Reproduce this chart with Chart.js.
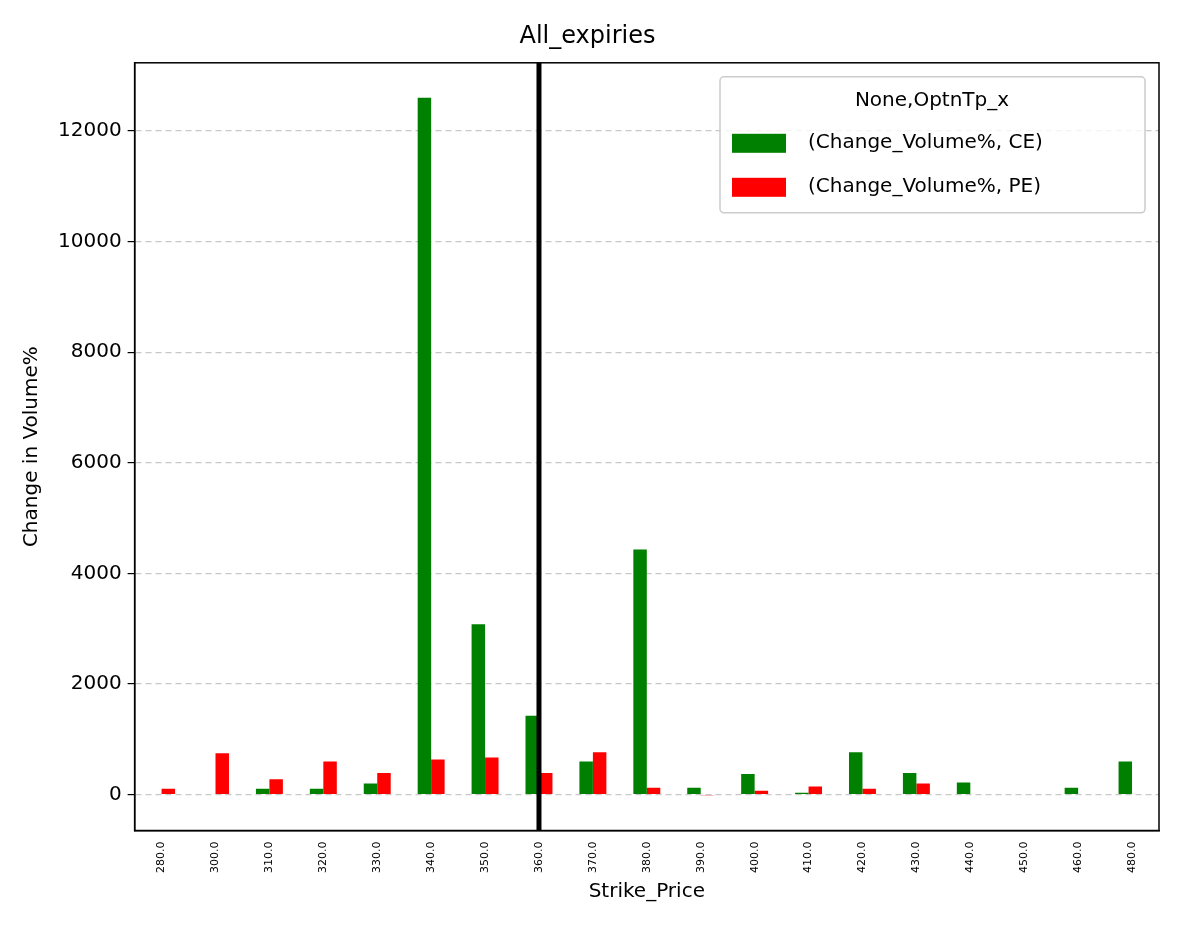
<!DOCTYPE html>
<html>
<head>
<meta charset="utf-8">
<script src="https://cdn.jsdelivr.net/npm/chart.js@4"></script>
<style>
body{margin:0;background:#fff}
#wrap{width:1179px;height:928px}
</style>
</head>
<body>
<div id="wrap"><canvas id="c" width="1179" height="928"></canvas></div>
<script>
const strikes = ['280.0','300.0','310.0','320.0','330.0','340.0','350.0','360.0','370.0','380.0','390.0','400.0','410.0','420.0','430.0','440.0','450.0','460.0','480.0'];
const ceVals = [0,0,107,107,200,12600,3080,1423,596,4430,125,370,31,765,389,219,0,125,596];
const peVals = [107,746,276,596,389,633,671,389,765,125,-19,69,144,107,200,0,0,0,0];
const yTicks = [0,2000,4000,6000,8000,10000,12000];
const spotStrike = '360.0';

const FONT = 'DejaVu Sans';

// vertical line at spot strike, frame, legend box
const extras = {
  id: 'extras',
  afterDatasetsDraw(chart) {
    const {ctx, chartArea: {top, bottom, left, right}, scales: {x}} = chart;
    ctx.save();
    const xp = x.getPixelForValue(strikes.indexOf(spotStrike));
    ctx.strokeStyle = '#000';
    ctx.lineWidth = 5;
    ctx.beginPath();
    ctx.moveTo(xp, top);
    ctx.lineTo(xp, bottom);
    ctx.stroke();

    ctx.lineWidth = 1.5;
    ctx.strokeRect(left, top, right - left, bottom - top);

    // legend
    const lx = right - 439, ly = top + 14, lw = 425, lh = 136;
    ctx.fillStyle = 'rgba(255,255,255,0.8)';
    ctx.strokeStyle = '#ccc';
    ctx.lineWidth = 1.5;
    ctx.beginPath();
    ctx.roundRect(lx, ly, lw, lh, 4);
    ctx.fill();
    ctx.stroke();
    ctx.fillStyle = '#000';
    ctx.font = '20px ' + FONT;
    ctx.textBaseline = 'middle';
    ctx.textAlign = 'center';
    ctx.fillText('None,OptnTp_x', lx + 212, ly + 24);
    ctx.textAlign = 'left';
    const items = [['(Change_Volume%, CE)', 'green'], ['(Change_Volume%, PE)', 'red']];
    items.forEach((it, i) => {
      const yy = ly + 66 + i * 44;
      ctx.fillStyle = it[1];
      ctx.fillRect(lx + 12, yy - 9, 54, 19);
      ctx.fillStyle = '#000';
      ctx.fillText(it[0], lx + 88, yy);
    });
    ctx.restore();
  }
};

new Chart(document.getElementById('c'), {
  type: 'bar',
  data: {
    labels: strikes,
    datasets: [
      {label: '(Change_Volume%, CE)', data: ceVals, backgroundColor: 'green', categoryPercentage: 0.5, barPercentage: 1.0},
      {label: '(Change_Volume%, PE)', data: peVals, backgroundColor: 'red', categoryPercentage: 0.5, barPercentage: 1.0}
    ]
  },
  options: {
    responsive: false,
    animation: false,
    layout: {padding: {top: 16, right: 20, left: 16, bottom: 20}},
    plugins: {
      legend: {display: false},
      tooltip: {enabled: false},
      title: {display: true, text: 'All_expiries', color: '#000', font: {family: FONT, size: 24, weight: 'normal'}, padding: {top: 6, bottom: 12}}
    },
    scales: {
      x: {
        grid: {display: false, drawTicks: true},
        border: {color: '#000', width: 1.5},
        ticks: {color: '#000', font: {family: FONT, size: 11}, maxRotation: 90, minRotation: 90, autoSkip: false},
        title: {display: true, text: 'Strike_Price', color: '#000', font: {family: FONT, size: 20}, padding: {top: 4}}
      },
      y: {
        min: -650, max: 13231,
        afterBuildTicks(axis) { axis.ticks = yTicks.map(v => ({value: v})); },
        grid: {color: '#c8c8c8', lineWidth: 1.2, tickColor: '#000', tickLength: 7},
        border: {color: '#000', width: 1.5, dash: [6, 4]},
        ticks: {color: '#000', font: {family: FONT, size: 20}, padding: 6, callback: v => String(v)},
        title: {display: true, text: 'Change in Volume%', color: '#000', font: {family: FONT, size: 20}, padding: {bottom: 8}}
      }
    }
  },
  plugins: [extras]
});
</script>
</body>
</html>
